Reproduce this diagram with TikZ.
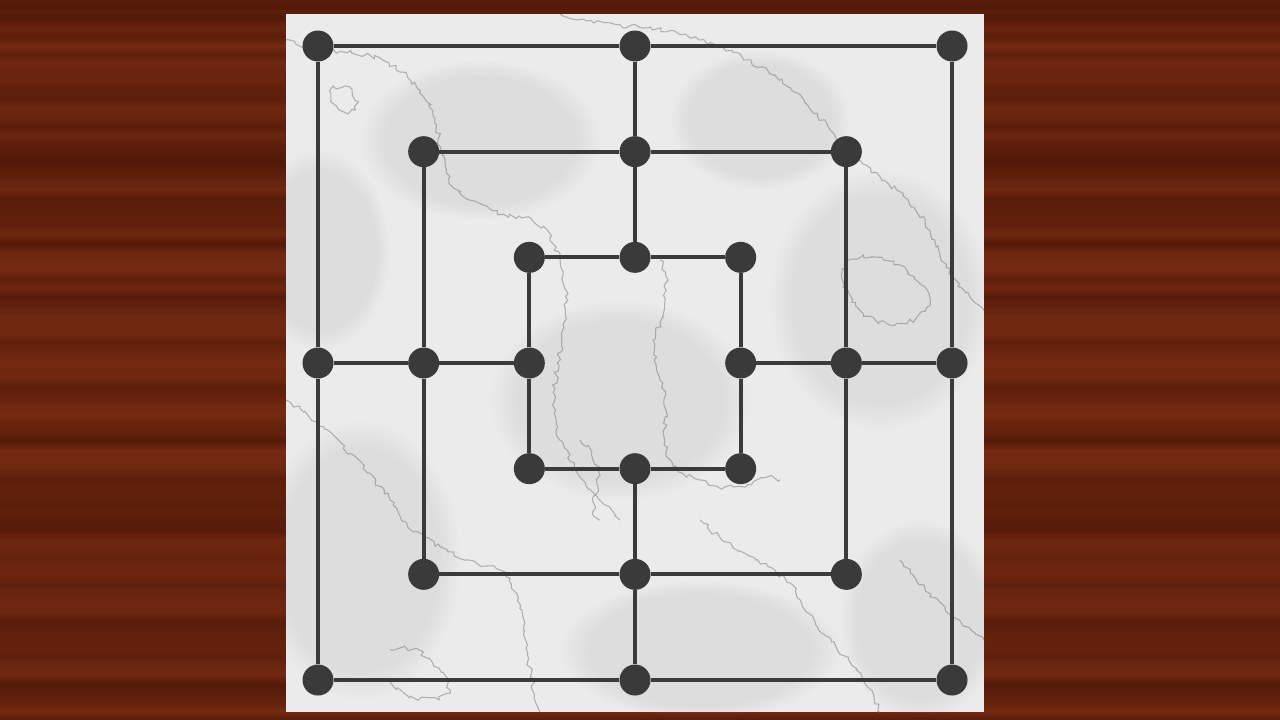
\documentclass[tikz,border=0pt]{standalone}
\usetikzlibrary{decorations.pathmorphing,fadings}
\definecolor{wdark}{HTML}{4A1606}
\definecolor{wlight}{HTML}{7E2E14}
\definecolor{marble}{HTML}{EBEBEB}
\definecolor{vein}{HTML}{808080}
\definecolor{ink}{HTML}{3A3A3A}
\tikzset{
  dot/.style={circle,fill=ink,draw=none,minimum size=31pt,inner sep=0pt},
  boardline/.style={draw=ink,line width=4.2pt},
  veinline/.style={draw=vein,line width=1.1pt,opacity=0.55,decorate,decoration={random steps,segment length=4pt,amplitude=2.5pt}},
  cloud/.style={fill=gray!80,opacity=0.16,draw=none,path fading=circle with fuzzy edge 20 percent}
}
\begin{document}
\begin{tikzpicture}[x=1pt,y=-1pt]
\useasboundingbox (0,0) rectangle (1280,720);
% wood background: smooth random bands
\pgfmathsetseed{11}
\xdef\prevr{50}
\foreach \yy in {0,9,...,720}{
  \pgfmathsetmacro\r{int(15+rnd*75)}
  \shade[top color=wdark!\prevr!wlight,bottom color=wdark!\r!wlight] (0,\yy) rectangle (1280,\yy+9.3);
  \xdef\prevr{\r}
}
\fill[wdark,opacity=0.5] (0,0) rectangle (1280,10);
% marble board
\fill[marble] (286,14) rectangle (984,712);
\begin{scope}
\clip (286,14) rectangle (984,712);
\fill[cloud] (620,400) ellipse (130 and 100);
\fill[cloud] (880,300) ellipse (110 and 130);
\fill[cloud] (360,560) ellipse (100 and 140);
\fill[cloud] (700,650) ellipse (140 and 70);
\fill[cloud] (480,140) ellipse (120 and 80);
\fill[cloud] (760,120) ellipse (90 and 70);
\fill[cloud] (320,250) ellipse (70 and 100);
\fill[cloud] (920,620) ellipse (80 and 100);
\pgfmathsetseed{3}
\draw[veinline] (286,40) .. controls (340,60) and (380,40) .. (420,90) .. controls (450,130) and (430,180) .. (470,200) .. controls (520,230) and (540,200) .. (560,260) .. controls (580,320) and (540,380) .. (560,440) .. controls (580,480) and (600,500) .. (620,520);
\draw[veinline] (560,14) .. controls (600,30) and (640,20) .. (700,40) .. controls (760,60) and (800,90) .. (830,130) .. controls (860,170) and (900,180) .. (930,230) .. controls (950,280) and (970,300) .. (984,310);
\draw[veinline] (850,260) .. controls (880,250) and (920,270) .. (930,300) .. controls (920,330) and (880,330) .. (860,310) .. controls (840,290) and (840,270) .. (850,260);
\draw[veinline] (286,400) .. controls (320,420) and (360,460) .. (390,500) .. controls (410,540) and (460,560) .. (500,570) .. controls (530,600) and (520,650) .. (540,712);
\draw[veinline] (660,260) .. controls (680,300) and (640,340) .. (660,380) .. controls (680,420) and (640,460) .. (700,480) .. controls (740,500) and (760,470) .. (780,480);
\draw[veinline] (700,520) .. controls (740,560) and (780,560) .. (800,600) .. controls (820,640) and (860,660) .. (880,712);
\draw[veinline] (330,90) .. controls (345,80) and (360,95) .. (355,110) .. controls (345,115) and (330,105) .. (330,90);
\draw[veinline] (390,650) .. controls (410,640) and (440,660) .. (450,690) .. controls (440,705) and (400,700) .. (390,680);
\draw[veinline] (900,560) .. controls (930,600) and (960,620) .. (984,640);
\draw[veinline] (580,440) .. controls (620,480) and (580,500) .. (600,520);
\end{scope}
% points
\foreach \c/\r in {0/0,3/0,6/0,1/1,3/1,5/1,2/2,3/2,4/2,0/3,1/3,2/3,4/3,5/3,6/3,2/4,3/4,4/4,1/5,3/5,5/5,0/6,3/6,6/6}{
  \node[dot] (p\c\r) at ({318+105.67*\c},{46+105.67*\r}) {};
}
% connectors
\path[boardline] (p00) -- (p30) -- (p60) -- (p63) -- (p66) -- (p36) -- (p06) -- (p03) -- (p00);
\path[boardline] (p11) -- (p31) -- (p51) -- (p53) -- (p55) -- (p35) -- (p15) -- (p13) -- (p11);
\path[boardline] (p22) -- (p32) -- (p42) -- (p43) -- (p44) -- (p34) -- (p24) -- (p23) -- (p22);
\path[boardline] (p30) -- (p31) -- (p32);
\path[boardline] (p03) -- (p13) -- (p23);
\path[boardline] (p43) -- (p53) -- (p63);
\path[boardline] (p34) -- (p35) -- (p36);
\end{tikzpicture}
\end{document}
